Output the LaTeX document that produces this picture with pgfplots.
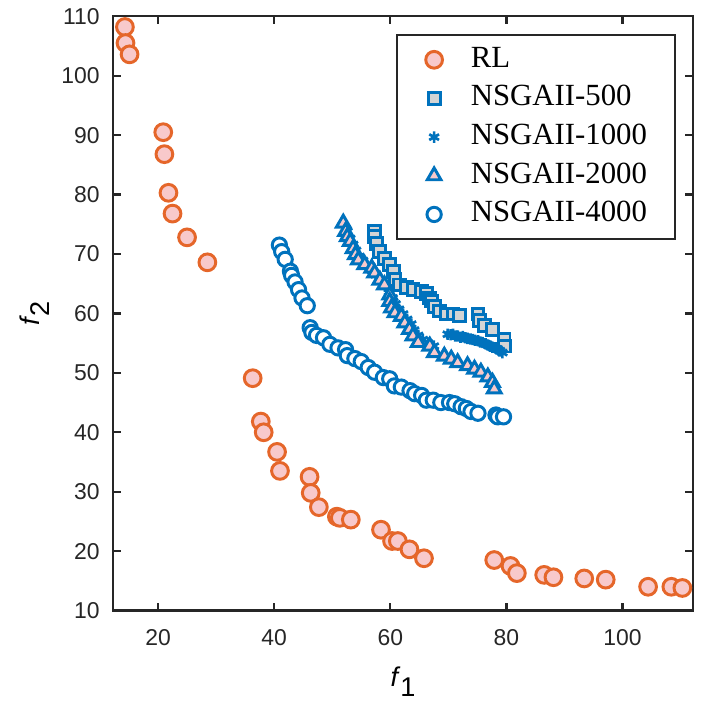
\documentclass[border=0pt]{standalone}
\usepackage{fontspec}
\setmainfont{Liberation Sans}
\newfontfamily\legfont{Liberation Serif}
\usepackage{pgfplots}
\pgfplotsset{compat=1.18}
\definecolor{rlorange}{HTML}{E5662A}
\definecolor{rlpink}{HTML}{F8C9CB}
\definecolor{mblue}{HTML}{0072BD}
\definecolor{sqgray}{HTML}{D4D4D4}
\begin{document}
\begin{tikzpicture}
\begin{axis}[
  name=main,
  scale only axis,
  width=8.27cm, height=8.48cm,
  xmin=12.3, xmax=112.1, ymin=10, ymax=110,
  xtick={20,40,60,80,100},
  ytick={10,20,30,40,50,60,70,80,90,100,110},
  tick align=inside,
  major tick length=3.2pt,
  axis line style={line width=0.9pt, black!85},
  every tick/.style={line width=0.9pt, black!85},
  tick label style={font=\fontsize{9.3}{10}\selectfont, text=black!85},
  /pgf/number format/assume math mode=true,
  xticklabel style={yshift=-4pt},
  yticklabel style={xshift=-2pt},
  xlabel={\fontsize{11}{12}\selectfont\textit{f}\raisebox{-0.7ex}{1}},
  ylabel={\fontsize{11}{12}\selectfont\textit{f}\raisebox{-0.7ex}{2}},
  xlabel style={yshift=-2pt},
  ylabel style={yshift=-2pt},
  legend image code/.code={\path (0cm,0cm) (1.03cm,0cm); \draw[#1] plot coordinates {(0.52cm,0cm)};},
  legend style={at={(1,1)}, anchor=north east, xshift=-0.24cm, yshift=-0.255cm,
    font=\legfont\fontsize{12.5}{13}\selectfont, draw=black!85, line width=0.8pt,
    inner xsep=0pt, inner ysep=4pt, row sep=3.7pt, column sep=0pt, cells={anchor=west},
    nodes={inner xsep=0pt, inner ysep=0pt, text height=9pt, text depth=3pt}},
  legend cell align=left,
]
\addplot[only marks, mark=*, mark size=3.4pt, mark options={draw=rlorange, fill=rlpink, line width=1.2pt}] coordinates {
(14.3,108.2) (14.4,105.5) (15.1,103.6) (20.9,90.5) (21.1,86.8) (21.8,80.3) (22.5,76.8) (25.0,72.8) (28.5,68.6)
(36.3,49.1) (37.7,41.8) (38.2,40.0) (40.5,36.7) (41.0,33.5) (46.1,32.5) (46.3,29.8) (47.7,27.4)
(50.8,25.8) (51.3,25.6) (53.2,25.3) (58.4,23.6) (60.3,21.7) (61.3,21.7) (63.3,20.3) (65.8,18.8)
(77.9,18.5) (80.7,17.5) (81.8,16.3) (86.5,16.0) (88.1,15.6) (93.4,15.4) (97.1,15.2)
(104.4,14.0) (108.4,14.0) (110.3,13.8)
};
\addlegendentry{RL\hspace*{0.4cm}}
\addplot[only marks, mark=square*, mark size=2.4pt, mark options={draw=mblue, fill=sqgray, line width=1.2pt}] coordinates {
(57.3,73.8) (57.3,72.9) (57.6,71.8) (58.2,70.4) (59.0,69.3) (59.9,68.2) (60.5,67.1) (60.8,65.7)
(61.6,64.8) (62.8,64.3) (63.9,64.0) (65.4,63.7) (66.2,63.3) (66.8,62.6) (67.1,62.1) (67.6,61.2)
(68.5,60.4) (69.6,59.9) (70.8,59.9) (71.9,59.7) (75.1,59.9) (75.3,58.8) (76.2,58.0) (77.6,57.3)
(79.6,55.6) (79.7,54.5)
};
\addlegendentry{NSGAII-500\hspace*{0.4cm}}
\addplot[only marks, mark=asterisk, mark size=2.3pt, mark options={draw=mblue, line width=1.1pt}] coordinates {
(52.6,73.8) (53.1,72.6) (53.6,71.6) (54.1,70.6) (54.7,69.6) (55.3,68.9) (56.0,68.1) (56.8,67.3)
(57.5,66.5) (58.3,65.6) (59.1,64.6) (59.8,63.6) (60.4,62.6) (60.9,61.6) (61.5,60.7) (62.2,59.9)
(62.9,59.0) (63.6,58.2) (64.1,57.2) (64.8,56.3) (65.6,55.6) (66.5,55.0) (67.5,54.5)
(69.9,56.5) (70.4,56.4) (70.8,56.5) (71.2,56.2) (71.6,56.2) (72.1,56.0) (72.5,56.1) (72.9,55.9)
(73.3,55.8) (73.8,55.7) (74.2,55.6) (74.6,55.5) (75.1,55.4) (75.5,55.2) (75.9,55.1) (76.4,54.9)
(76.8,54.7) (77.2,54.5) (77.6,54.3) (78.1,54.2) (78.5,54.0) (78.9,53.7) (79.3,53.4)
};
\addlegendentry{NSGAII-1000\hspace*{0.4cm}}
\addplot[only marks, mark=triangle*, mark size=3.2pt, mark options={draw=mblue, fill=rlpink, line width=1.2pt}] coordinates {
(51.9,75.2) (52.3,73.8) (52.6,72.9) (53.1,72.1) (53.6,70.9) (54.0,69.9) (54.5,69.0) (55.6,68.2)
(56.8,67.6) (57.3,66.8) (58.2,65.6) (59.0,64.8) (59.9,63.1) (59.9,62.0) (60.2,60.9) (60.8,60.1)
(61.9,59.5) (62.5,58.4) (63.3,57.3) (63.9,56.2) (64.8,55.1) (66.8,54.5) (67.6,53.4) (69.3,52.8)
(70.5,52.3) (71.6,51.7) (73.3,51.2) (74.5,50.6) (75.6,50.1) (76.8,49.3) (77.6,48.4) (77.9,47.3)
};
\addlegendentry{NSGAII-2000\hspace*{0.4cm}}
\addplot[only marks, mark=*, mark size=2.9pt, mark options={draw=mblue, fill=white, line width=1.2pt}] coordinates {
(40.9,71.5) (41.3,70.4) (41.9,69.1) (42.8,67.1) (43.0,66.4) (43.6,65.3) (44.2,64.0) (44.8,62.6) (45.7,61.3)
(46.2,57.6) (46.5,56.8) (47.3,56.3) (48.5,55.9) (49.6,54.8) (51.0,54.2) (52.3,53.9) (52.6,52.9)
(53.9,52.4) (55.0,51.9) (56.2,50.9) (57.3,50.1) (58.8,49.2) (59.9,49.0) (60.7,47.8) (61.9,47.6)
(63.4,47.0) (64.2,46.5) (65.4,46.2) (66.2,45.4) (67.4,45.4) (68.7,45.0) (70.2,45.0) (71.1,44.8)
(72.2,44.3) (73.1,44.0) (73.9,43.5) (75.1,43.2) (78.2,42.9) (78.5,42.6) (79.5,42.6)
};
\addlegendentry{NSGAII-4000\hspace*{0.4cm}}
\end{axis}
\path ([xshift=-1.617cm,yshift=-1.305cm]main.south west) rectangle ([xshift=0.113cm,yshift=0.213cm]main.north east);
\end{tikzpicture}
\end{document}
